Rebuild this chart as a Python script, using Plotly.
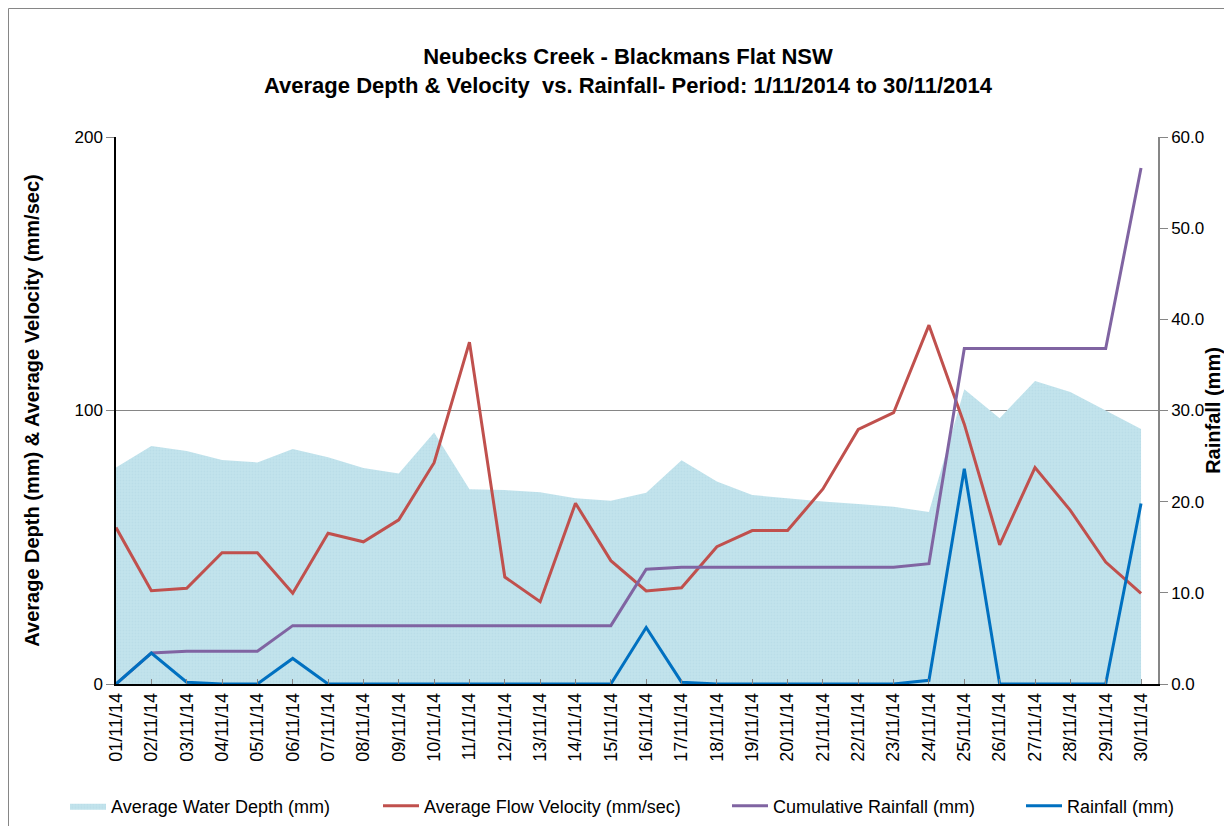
import plotly.graph_objects as go

dates = ["01/11/14","02/11/14","03/11/14","04/11/14","05/11/14","06/11/14","07/11/14","08/11/14",
         "09/11/14","10/11/14","11/11/14","12/11/14","13/11/14","14/11/14","15/11/14","16/11/14",
         "17/11/14","18/11/14","19/11/14","20/11/14","21/11/14","22/11/14","23/11/14","24/11/14",
         "25/11/14","26/11/14","27/11/14","28/11/14","29/11/14","30/11/14"]

depth = [79.2, 87.0, 85.2, 81.9, 81.0, 85.9, 82.9, 79.0, 77.0, 92.0,
         71.2, 70.9, 70.1, 67.9, 67.0, 69.9, 81.8, 74.0, 69.1, 67.9,
         66.7, 65.8, 64.8, 62.9, 107.8, 97.2, 110.8, 106.8, 100.0, 93.2]

velocity = [57.2, 34.1, 35.0, 48.0, 48.0, 33.2, 55.1, 52.0, 60.0, 80.9,
            125.0, 39.1, 30.1, 66.1, 45.1, 34.0, 35.2, 50.2, 56.1, 56.1,
            71.3, 93.1, 99.2, 131.2, 95.0, 50.9, 79.1, 63.5, 44.6, 33.1]

cumulative = [0.0, 3.4, 3.6, 3.6, 3.6, 6.4, 6.4, 6.4, 6.4, 6.4,
              6.4, 6.4, 6.4, 6.4, 6.4, 12.6, 12.8, 12.8, 12.8, 12.8,
              12.8, 12.8, 12.8, 13.2, 36.8, 36.8, 36.8, 36.8, 36.8, 56.6]

rainfall = [0.0, 3.4, 0.2, 0.0, 0.0, 2.8, 0.0, 0.0, 0.0, 0.0,
            0.0, 0.0, 0.0, 0.0, 0.0, 6.2, 0.2, 0.0, 0.0, 0.0,
            0.0, 0.0, 0.0, 0.4, 23.6, 0.0, 0.0, 0.0, 0.0, 19.8]

left_ticks = [0, 100, 200]
right_ticks = [0, 10, 20, 30, 40, 50, 60]

FONT = "Liberation Sans, Arial, sans-serif"
OFF = 8                      # browser body margin
W, H = 1232 - 2 * OFF, 834 - 2 * OFF
L, R, T, B = 116 - OFF, 1158 - OFF, 137 - OFF, 684 - OFF
PW, PH = R - L, B - T


def px(xpage):
    return (xpage - OFF - L) / PW


def py(ypage):
    return (B - (ypage - OFF)) / PH


fig = go.Figure()
fig.add_trace(go.Scatter(
    x=dates, y=depth, name="Average Water Depth (mm)", mode="lines",
    line=dict(width=0, color="#BEE0EA"), fill="tozeroy", fillcolor="#BEE0EA",
    fillpattern=dict(shape=".", fgcolor="#B2D8E4", bgcolor="#C2E3EC", size=3, solidity=0.3),
    yaxis="y", legend="legend"))
fig.add_trace(go.Scatter(
    x=dates, y=velocity, name="Average Flow Velocity (mm/sec)", mode="lines",
    line=dict(width=3, color="#C0504D"), yaxis="y", legend="legend2"))
fig.add_trace(go.Scatter(
    x=dates, y=cumulative, name="Cumulative Rainfall (mm)", mode="lines",
    line=dict(width=3, color="#8064A2"), yaxis="y2", legend="legend3"))
fig.add_trace(go.Scatter(
    x=dates, y=rainfall, name="Rainfall (mm)", mode="lines",
    line=dict(width=3, color="#0070C0"), yaxis="y2", legend="legend4"))

leg_common = dict(orientation="h", xanchor="left", yanchor="middle", y=py(806),
                  font=dict(size=18), itemwidth=36, bgcolor="rgba(0,0,0,0)")

fig.update_layout(
    width=W, height=H,
    margin=dict(l=L, r=W - R, t=T, b=H - B, autoexpand=False),
    paper_bgcolor="white", plot_bgcolor="white",
    font=dict(family=FONT, size=17, color="black"),
    title=dict(
        text="<b>Neubecks Creek - Blackmans Flat NSW<br>Average Depth &amp; Velocity  vs. Rainfall- Period: 1/11/2014 to 30/11/2014</b>",
        x=(628 - OFF) / W, xanchor="center", xref="container",
        y=1 - (64 - OFF) / H, yanchor="top", yref="container",
        font=dict(family=FONT, size=22, color="black")),
    xaxis=dict(
        type="category", range=[0, 29.48], tickangle=-90,
        ticks="inside", ticklen=5, tickcolor="#868686",
        showline=True, linecolor="black", linewidth=1.5,
        showgrid=False, tickfont=dict(size=18), zeroline=False),
    yaxis=dict(
        range=[0, 200], tickvals=left_ticks, ticks="outside", ticklen=8, tickcolor="#868686",
        showline=True, linecolor="black", linewidth=1.5,
        showgrid=True, gridcolor="#868686", gridwidth=1, zeroline=False,
        tickfont=dict(size=17),
        title=dict(text="<b>Average Depth (mm) &amp; Average Velocity (mm/sec)</b>",
                   font=dict(size=20), standoff=29)),
    yaxis2=dict(
        range=[0, 60], tickvals=right_ticks, tickformat=".1f", overlaying="y", side="right",
        ticks="outside", ticklen=8, tickcolor="#868686",
        showline=True, linecolor="#868686", linewidth=1.5, showgrid=False, zeroline=False,
        tickfont=dict(size=17),
        title=dict(text="<b>Rainfall (mm)</b>", font=dict(size=20), standoff=11)),
    legend=dict(x=px(65), **leg_common),
    legend2=dict(x=px(378), **leg_common),
    legend3=dict(x=px(727), **leg_common),
    legend4=dict(x=px(1021), **leg_common),
    showlegend=True,
)

fig.add_shape(type="rect", xref="paper", yref="paper",
              x0=px(8.5), x1=px(1400),
              y0=py(1000), y1=py(8.5),
              line=dict(color="#868686", width=1), fillcolor="rgba(0,0,0,0)", layer="below")

fig.write_html("out.html")
